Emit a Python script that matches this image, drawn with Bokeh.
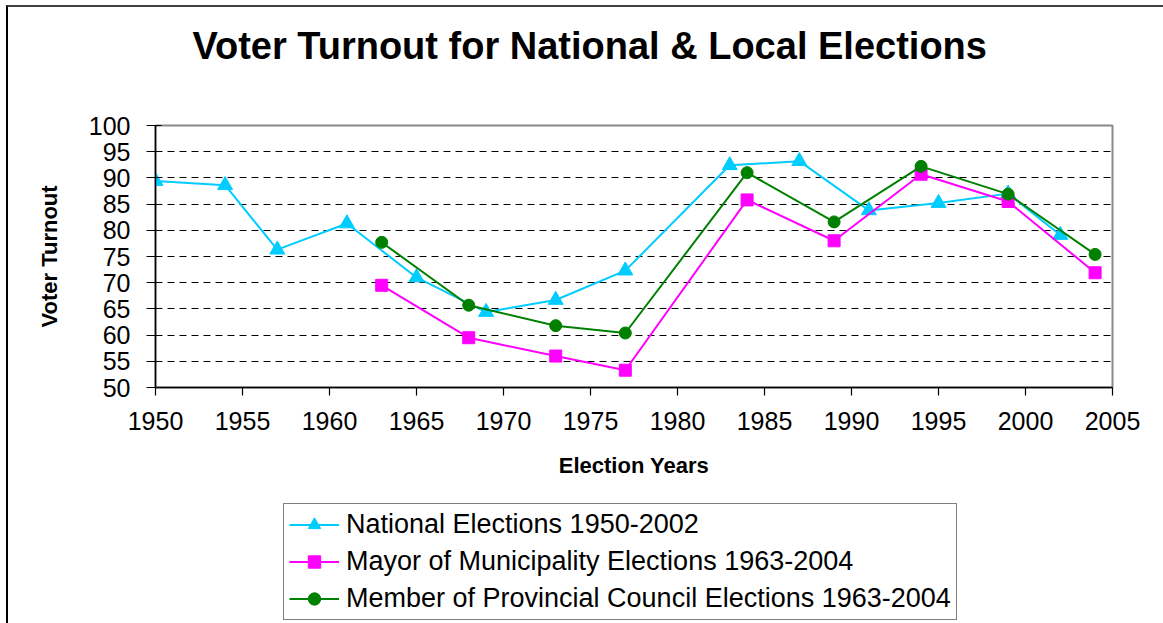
from bokeh.plotting import figure
from bokeh.layouts import column
from bokeh.models import Range1d, FixedTicker, Legend, LegendItem, Label
from bokeh.embed import file_html
from bokeh.resources import INLINE

# ---- data ----
nat_years = [1950, 1954, 1957, 1961, 1965, 1969, 1973, 1977, 1983, 1987, 1991, 1995, 1999, 2002]
nat_vals = [89.4, 88.6, 76.3, 81.3, 71.0, 64.4, 66.7, 72.3, 92.4, 93.2, 83.8, 85.2, 87.0, 79.1]

loc_years = [1963, 1968, 1973, 1977, 1984, 1989, 1994, 1999, 2004]
mayor_vals = [69.5, 59.5, 56.0, 53.3, 85.8, 78.0, 90.7, 85.5, 71.9]
council_vals = [77.7, 65.7, 61.8, 60.4, 91.0, 81.6, 92.2, 86.9, 75.4]

x_ticks = [1950, 1955, 1960, 1965, 1970, 1975, 1980, 1985, 1990, 1995, 2000, 2005]
y_ticks = [50, 55, 60, 65, 70, 75, 80, 85, 90, 95, 100]
grid_ticks = [55, 60, 65, 70, 75, 80, 85, 90, 95]

title_text = "Voter Turnout for National & Local Elections"
labels = ["National Elections 1950-2002",
          "Mayor of Municipality Elections 1963-2004",
          "Member of Provincial Council Elections 1963-2004"]

FONT = "Liberation Sans"
c_nat, c_may, c_cou = "#00CCFF", "#FF00FF", "#008000"
W = 1155

# ---- title strip ----
t = figure(width=W, height=100, output_backend="svg", toolbar_location=None,
           x_range=Range1d(0, W), y_range=Range1d(0, 100),
           x_axis_type=None, y_axis_type=None,
           min_border_left=0, min_border_right=0, min_border_top=0, min_border_bottom=0)
t.grid.grid_line_color = None
t.outline_line_color = None
t.add_layout(Label(x=524, y=62, text=title_text, text_align="center", text_baseline="middle",
                   text_font=FONT, text_font_size="38px", text_font_style="bold",
                   text_color="black"))

# ---- main plot ----
p = figure(width=W, height=390, output_backend="svg", toolbar_location=None,
           x_range=Range1d(1950, 2005), y_range=Range1d(50, 100),
           min_border_left=147, min_border_right=51, min_border_top=18,
           min_border_bottom=110)

p.outline_line_color = "#888888"
p.outline_line_width = 2

p.xaxis.ticker = FixedTicker(ticks=x_ticks)
p.yaxis.ticker = FixedTicker(ticks=y_ticks)
for ax in (p.xaxis[0], p.yaxis[0]):
    ax.axis_line_color = "black"
    ax.axis_line_width = 1.5
    ax.major_tick_line_color = "black"
    ax.major_tick_line_width = 1.2
    ax.minor_tick_line_color = None
    ax.major_label_text_font = FONT
    ax.major_label_text_font_size = "25px"
    ax.major_label_text_color = "black"
    ax.axis_label_text_font = FONT
    ax.axis_label_text_font_size = "22px"
    ax.axis_label_text_font_style = "bold"
    ax.axis_label_text_color = "black"

p.xaxis.axis_label = "Election Years"
p.yaxis.axis_label = "Voter Turnout"
p.xaxis.major_tick_out = 8
p.xaxis.major_tick_in = 0
p.yaxis.major_tick_out = 9
p.yaxis.major_tick_in = 6
p.xaxis.major_label_standoff = 16
p.yaxis.major_label_standoff = 16
p.xaxis.axis_label_standoff = 20
p.yaxis.axis_label_standoff = 24

p.xgrid.grid_line_color = None
p.ygrid.ticker = FixedTicker(ticks=grid_ticks)
p.ygrid.grid_line_color = "black"
p.ygrid.grid_line_dash = "7 5"
p.ygrid.grid_line_width = 1.2

p.line(nat_years, nat_vals, line_color=c_nat, line_width=2)
p.scatter(nat_years, nat_vals, marker="triangle", size=15, color=c_nat)
p.line(loc_years, mayor_vals, line_color=c_may, line_width=2)
p.scatter(loc_years, mayor_vals, marker="square", size=12, color=c_may)
p.line(loc_years, council_vals, line_color=c_cou, line_width=2)
p.scatter(loc_years, council_vals, marker="circle", size=12, color=c_cou)

# ---- legend strip (series drawn out of its view; only the legend shows) ----
q = figure(width=W, height=126, output_backend="svg", toolbar_location=None,
           x_range=Range1d(0, 1), y_range=Range1d(0, 1),
           x_axis_type=None, y_axis_type=None,
           min_border_left=0, min_border_right=0, min_border_top=0, min_border_bottom=0)
q.grid.grid_line_color = None
q.outline_line_color = None

g1 = q.line(nat_years, nat_vals, line_color=c_nat, line_width=2)
h1 = q.scatter(nat_years, nat_vals, marker="triangle", size=13, color=c_nat)
g2 = q.line(loc_years, mayor_vals, line_color=c_may, line_width=2)
h2 = q.scatter(loc_years, mayor_vals, marker="square", size=10, color=c_may)
g3 = q.line(loc_years, council_vals, line_color=c_cou, line_width=2)
h3 = q.scatter(loc_years, council_vals, marker="circle", size=10, color=c_cou)

legend = Legend(items=[LegendItem(label=labels[0], renderers=[g1, h1]),
                       LegendItem(label=labels[1], renderers=[g2, h2]),
                       LegendItem(label=labels[2], renderers=[g3, h3])],
                location=(128, 3))
legend.label_text_font = FONT
legend.label_text_font_size = "27px"
legend.label_text_color = "black"
legend.glyph_width = 50
legend.glyph_height = 31
legend.label_height = 31
legend.spacing = 6
legend.padding = 5
legend.margin = 0
legend.label_standoff = 7
legend.border_line_color = "black"
legend.border_line_width = 1.5
legend.background_fill_alpha = 1
q.add_layout(legend, "center")

layout = column(t, p, q, spacing=0)
layout.styles = {"margin-left": "6px", "margin-top": "5px",
                 "border-left": "2px solid black", "border-top": "2px solid #404040"}
open("out.html", "w").write(file_html(layout, INLINE))
